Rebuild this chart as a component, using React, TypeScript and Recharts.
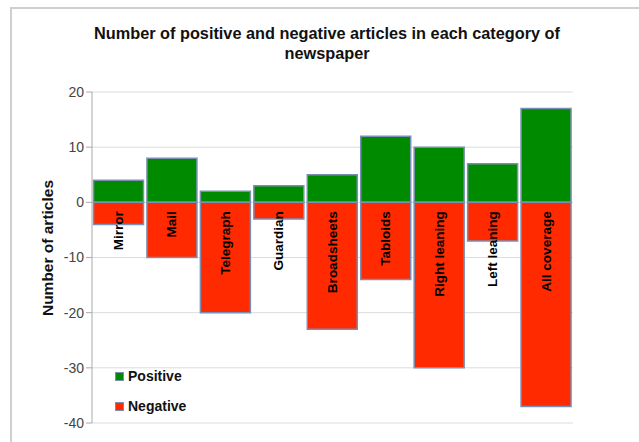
import { BarChart, Bar, XAxis, YAxis, CartesianGrid, LabelList } from 'recharts'

const categories = [
  'Mirror',
  'Mail',
  'Telegraph',
  'Guardian',
  'Broadsheets',
  'Tabloids',
  'Right leaning',
  'Left leaning',
  'All coverage',
]
const positive = [4, 8, 2, 3, 5, 12, 10, 7, 17]
const negative = [-4, -10, -20, -3, -23, -14, -30, -7, -37]
const yTicks = [-40, -30, -20, -10, 0, 10, 20]

const data = categories.map((name, i) => ({ name, positive: positive[i], negative: negative[i] }))

const FONT = 'Arial, "Liberation Sans", Helvetica, sans-serif'
const GREEN = '#008a00'
const RED = '#ff2a00'
const EDGE = '#7b8fb5'

// vertical category name, starting just under the zero line
const CategoryLabel = (props: any) => {
  const { x, y, width, value } = props
  const cx = x + width / 2
  const top = Math.min(y, y + props.height) + 9
  return (
    <text
      x={cx}
      y={top}
      transform={`rotate(-90 ${cx} ${top})`}
      textAnchor="end"
      dominantBaseline="central"
      fontFamily={FONT}
      fontWeight="bold"
      fontSize={13.5}
      fill="#000"
    >
      {value}
    </text>
  )
}

const legendItems = [
  { label: 'Positive', color: GREEN },
  { label: 'Negative', color: RED },
]

export default function App() {
  return (
    <div style={{ position: 'absolute', left: 0, top: 0, width: 639, height: 442, background: '#fff' }}>
      <div
        style={{
          position: 'absolute',
          left: 10,
          top: 7,
          width: 640,
          height: 450,
          border: '2px solid #cfcfcf',
          boxSizing: 'border-box',
        }}
      />
      <div
        style={{
          position: 'absolute',
          left: 0,
          top: 23,
          width: 654,
          textAlign: 'center',
          fontFamily: FONT,
          fontWeight: 'bold',
          fontSize: 16.3,
          lineHeight: '20px',
          color: '#111',
        }}
      >
        Number of positive and negative articles in each category of
        <br />
        newspaper
      </div>
      <div
        style={{
          position: 'absolute',
          left: 48,
          top: 248,
          transform: 'translate(-50%, -50%) rotate(-90deg)',
          whiteSpace: 'nowrap',
          fontFamily: FONT,
          fontWeight: 'bold',
          fontSize: 15.5,
          color: '#111',
        }}
      >
        Number of articles
      </div>
      <BarChart
        width={639}
        height={442}
        data={data}
        stackOffset="sign"
        barCategoryGap={1.5}
        margin={{ top: 92, right: 66, bottom: 19, left: 52 }}
        style={{ position: 'absolute', left: 0, top: 0 }}
      >
        <CartesianGrid vertical={false} stroke="#dcdcdc" />
        <XAxis dataKey="name" hide />
        <YAxis
          width={40}
          domain={[-40, 20]}
          ticks={yTicks}
          interval={0}
          stroke="#aaa"
          tickSize={6}
          tick={{ fill: '#444', fontSize: 14, fontFamily: FONT }}
        />
        <Bar dataKey="positive" name="Positive" stackId="a" fill={GREEN} stroke={EDGE} strokeWidth={1.5} isAnimationActive={false} />
        <Bar dataKey="negative" name="Negative" stackId="a" fill={RED} stroke={EDGE} strokeWidth={1.5} isAnimationActive={false}>
          <LabelList dataKey="name" content={<CategoryLabel />} />
        </Bar>
      </BarChart>
      <div
        style={{
          position: 'absolute',
          left: 115,
          top: 361,
          fontFamily: FONT,
          fontWeight: 'bold',
          fontSize: 14,
          color: '#111',
        }}
      >
        {legendItems.map((it) => (
          <div key={it.label} style={{ display: 'flex', alignItems: 'center', height: 30 }}>
            <span
              style={{
                display: 'inline-block',
                width: 7,
                height: 7,
                background: it.color,
                border: `1px solid ${EDGE}`,
                marginRight: 4,
              }}
            />
            {it.label}
          </div>
        ))}
      </div>
    </div>
  )
}
